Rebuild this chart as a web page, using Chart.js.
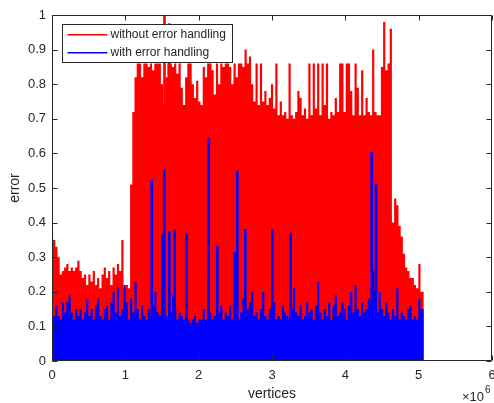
<!DOCTYPE html>
<html>
<head>
<meta charset="utf-8">
<script src="https://cdn.jsdelivr.net/npm/chart.js@4.4.0/dist/chart.umd.min.js"></script>
<style>
  html, body { margin: 0; padding: 0; background: #fff; }
</style>
</head>
<body>
<canvas id="errChart" width="494" height="403"></canvas>
<script>
// error per vertex, one value every vertexStep vertices
const vertexStep = 30000;

const redErr = [
  0.37, 0.35, 0.33, 0.30, 0.25, 0.26, 0.27, 0.28, 0.26, 0.27,
  0.26, 0.27, 0.29, 0.26, 0.24, 0.25, 0.22, 0.25, 0.23, 0.26,
  0.22, 0.24, 0.21, 0.25, 0.27, 0.24, 0.26, 0.22, 0.27, 0.25,
  0.28, 0.26, 0.35, 0.21, 0.22, 0.21, 0.51, 0.72, 0.82, 0.86,
  0.86, 0.82, 0.86, 0.86, 0.85, 0.86, 0.84, 0.86, 0.86, 0.86,
  0.80, 0.74, 0.82, 0.86, 0.86, 0.85, 0.86, 0.83, 0.86, 0.79,
  0.74, 0.82, 0.86, 0.86, 0.80, 0.76, 0.81, 0.75, 0.74, 0.85,
  0.82, 0.86, 0.86, 0.84, 0.77, 0.86, 0.80, 0.86, 0.85, 0.86,
  0.86, 0.85, 0.80, 0.86, 0.82, 0.86, 0.86, 0.85, 0.90, 0.86,
  0.88, 0.80, 0.75, 0.86, 0.74, 0.86, 0.75, 0.78, 0.74, 0.76,
  0.80, 0.73, 0.86, 0.71, 0.75, 0.71, 0.72, 0.70, 0.86, 0.71,
  0.70, 0.72, 0.78, 0.76, 0.71, 0.73, 0.70, 0.86, 0.71, 0.86,
  0.73, 0.86, 0.71, 0.86, 0.74, 0.86, 0.70, 0.72, 0.71, 0.76,
  0.72, 0.86, 0.86, 0.72, 0.86, 0.86, 0.78, 0.71, 0.86, 0.79,
  0.71, 0.84, 0.71, 0.76, 0.72, 0.71, 0.90, 0.72, 0.71, 0.71,
  0.85, 0.98, 0.84, 0.86, 0.96, 0.40, 0.47, 0.45, 0.39, 0.36,
  0.31, 0.27, 0.26, 0.24, 0.24, 0.22, 0.21, 0.28, 0.20, 0.20
];

const blueErr = [
  0.11, 0.13, 0.16, 0.13, 0.12, 0.17, 0.14, 0.17, 0.19, 0.14,
  0.12, 0.15, 0.13, 0.15, 0.12, 0.14, 0.18, 0.13, 0.15, 0.12,
  0.16, 0.18, 0.13, 0.12, 0.15, 0.16, 0.12, 0.17, 0.20, 0.14,
  0.21, 0.13, 0.15, 0.22, 0.17, 0.12, 0.18, 0.14, 0.23, 0.15,
  0.12, 0.16, 0.13, 0.12, 0.15, 0.13, 0.16, 0.20, 0.14, 0.13,
  0.16, 0.15, 0.13, 0.12, 0.14, 0.19, 0.15, 0.12, 0.14, 0.13,
  0.12, 0.14, 0.12, 0.11, 0.12, 0.13, 0.11, 0.12, 0.12, 0.15,
  0.12, 0.24, 0.14, 0.12, 0.13, 0.12, 0.14, 0.16, 0.12, 0.14,
  0.13, 0.16, 0.12, 0.17, 0.14, 0.12, 0.14, 0.18, 0.13, 0.15,
  0.17, 0.20, 0.13, 0.14, 0.12, 0.15, 0.20, 0.13, 0.12, 0.15,
  0.13, 0.17, 0.12, 0.13, 0.12, 0.16, 0.14, 0.13, 0.12, 0.15,
  0.21, 0.14, 0.13, 0.16, 0.12, 0.13, 0.17, 0.14, 0.15, 0.12,
  0.16, 0.23, 0.14, 0.12, 0.15, 0.13, 0.17, 0.12, 0.16, 0.19,
  0.13, 0.14, 0.17, 0.15, 0.12, 0.16, 0.20, 0.14, 0.22, 0.15,
  0.13, 0.17, 0.14, 0.15, 0.18, 0.16, 0.26, 0.20, 0.14, 0.20,
  0.15, 0.13, 0.17, 0.14, 0.12, 0.15, 0.13, 0.21, 0.12, 0.14,
  0.13, 0.12, 0.15, 0.16, 0.12, 0.13, 0.12, 0.18, 0.15, 0.15
];

// single thin peaks that stick out of the envelopes
const redSpikeVertex = [1534000, 1596000];
const redSpikeErr = [1.0, 0.975];

const blueSpikeVertex = [1360000, 1504000, 1531000, 1600000, 1673000, 1837000, 2137000,
  2254000, 2491000, 2527000, 2636000, 3004000, 3255000, 4359000, 4418000];
const blueSpikeErr = [0.523, 0.364, 0.552, 0.373, 0.38, 0.367, 0.644,
  0.332, 0.315, 0.549, 0.38, 0.38, 0.37, 0.604, 0.512];

const seriesNames = ['without error handling', 'with error handling'];
const xTickLabels = ['0', '1', '2', '3', '4', '5', '6'];
const yTickLabels = ['0', '0.1', '0.2', '0.3', '0.4', '0.5', '0.6', '0.7', '0.8', '0.9', '1'];

const RED = 'rgb(255, 0, 0)';
const BLUE = 'rgb(0, 0, 255)';
const seriesColors = [RED, BLUE];
const AXIS = '#262626';
const FONT = "'Liberation Sans', Arial, Helvetica, sans-serif";

const toPoints = (vals) => vals.map((v, i) => ({ x: i * vertexStep, y: v }));
const toSpikes = (xs, ys) => xs.map((x, i) => ({ x: x, y: ys[i] }));

// box around the plot with inward ticks, matlab style
const axesBox = {
  id: 'axesBox',
  afterDatasetsDraw(chart) {
    const { ctx, chartArea: a, scales: { x, y } } = chart;
    const L = Math.round(a.left) + 0.5, R = Math.round(a.right) - 0.5;
    const T = Math.round(a.top) + 0.5, B = Math.round(a.bottom) - 0.5;
    ctx.save();
    ctx.strokeStyle = AXIS;
    ctx.lineWidth = 1;
    ctx.beginPath();
    ctx.rect(L, T, R - L, B - T);
    x.ticks.forEach(t => {
      const px = Math.round(x.getPixelForValue(t.value)) + 0.5;
      ctx.moveTo(px, B); ctx.lineTo(px, B - 5);
      ctx.moveTo(px, T); ctx.lineTo(px, T + 5);
    });
    y.ticks.forEach(t => {
      const py = Math.round(y.getPixelForValue(t.value)) + 0.5;
      ctx.moveTo(L, py); ctx.lineTo(L + 5, py);
      ctx.moveTo(R, py); ctx.lineTo(R - 5, py);
    });
    ctx.stroke();

    // exponent note under the right end of the x axis
    ctx.fillStyle = AXIS;
    ctx.textBaseline = 'middle';
    ctx.textAlign = 'left';
    ctx.font = '13px ' + FONT;
    ctx.fillText('\u00d710', 462, 397);
    ctx.font = '10px ' + FONT;
    ctx.fillText('6', 485, 390);
    ctx.restore();
  },
  afterDraw(chart) {
    const { ctx, chartArea: a } = chart;
    const bx = Math.round(a.left) + 10.5, by = Math.round(a.top) + 9.5, bw = 170, bh = 38;
    ctx.save();
    ctx.fillStyle = '#ffffff';
    ctx.fillRect(bx, by, bw, bh);
    ctx.strokeStyle = AXIS;
    ctx.lineWidth = 1;
    ctx.strokeRect(bx, by, bw, bh);
    ctx.font = '12px ' + FONT;
    ctx.textBaseline = 'middle';
    ctx.textAlign = 'left';
    seriesNames.forEach((name, i) => {
      const ly = Math.round(by + 10 + i * 18) - 1;
      ctx.fillStyle = seriesColors[i];
      ctx.fillRect(bx + 5, ly, 40, 1.5);
      ctx.fillStyle = AXIS;
      ctx.fillText(name, bx + 48, ly + 1);
    });
    ctx.restore();
  }
};

const ctx = document.getElementById('errChart').getContext('2d');

new Chart(ctx, {
  type: 'line',
  data: {
    datasets: [
      {
        label: seriesNames[0],
        data: toPoints(redErr),
        stepped: 'middle',
        fill: 'origin',
        backgroundColor: RED,
        borderColor: 'rgba(0,0,0,0)',
        borderWidth: 1,
        pointRadius: 0,
        order: 3
      },
      {
        type: 'bar',
        label: 'red peaks',
        data: toSpikes(redSpikeVertex, redSpikeErr),
        backgroundColor: RED,
        barThickness: 2,
        grouped: false,
        order: 2
      },
      {
        label: seriesNames[1],
        data: toPoints(blueErr),
        stepped: 'middle',
        fill: 'origin',
        backgroundColor: BLUE,
        borderColor: 'rgba(0,0,0,0)',
        borderWidth: 1,
        pointRadius: 0,
        order: 1
      },
      {
        type: 'bar',
        label: 'blue peaks',
        data: toSpikes(blueSpikeVertex, blueSpikeErr),
        backgroundColor: BLUE,
        barThickness: 2,
        grouped: false,
        order: 0
      }
    ]
  },
  options: {
    responsive: false,
    animation: false,
    devicePixelRatio: 1,
    events: [],
    layout: { padding: { left: 0, right: 2, top: 15, bottom: 0 } },
    plugins: {
      legend: { display: false },
      tooltip: { enabled: false }
    },
    scales: {
      x: {
        type: 'linear',
        min: 0,
        max: 6000000,
        offset: false,
        grid: { display: false, drawTicks: false },
        border: { display: false },
        ticks: {
          stepSize: 1000000,
          autoSkip: false,
          maxRotation: 0,
          padding: 7,
          color: AXIS,
          font: { family: FONT, size: 13 },
          callback: (v, i) => xTickLabels[i]
        },
        title: {
          display: true,
          text: 'vertices',
          color: AXIS,
          font: { family: FONT, size: 14 },
          padding: { top: 0, bottom: 0 }
        },
        afterFit: (scale) => {
          scale.height = 42;
          scale.paddingLeft = 0;
          scale.paddingRight = 0;
        }
      },
      y: {
        min: 0,
        max: 1,
        grid: { display: false, drawTicks: false },
        border: { display: false },
        ticks: {
          stepSize: 0.1,
          autoSkip: false,
          padding: 6,
          color: AXIS,
          font: { family: FONT, size: 13 },
          callback: (v, i) => yTickLabels[i]
        },
        title: {
          display: true,
          text: 'error',
          color: AXIS,
          font: { family: FONT, size: 14 },
          padding: { top: 7, bottom: 0 }
        },
        afterFit: (scale) => {
          scale.width = 52;
          scale.paddingTop = 0;
          scale.paddingBottom = 0;
        }
      }
    }
  },
  plugins: [axesBox]
});
</script>
</body>
</html>
